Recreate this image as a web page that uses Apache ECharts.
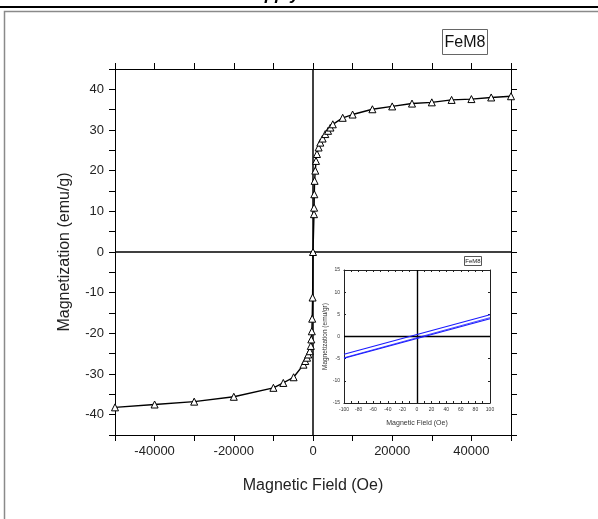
<!DOCTYPE html>
<html><head><meta charset="utf-8">
<script src="https://cdn.jsdelivr.net/npm/echarts@6/dist/echarts.min.js"></script>
<style>html,body{margin:0;padding:0;background:#fff}#c{width:598px;height:519px}</style>
</head><body><div id="c"></div>
<script>
// Main M-H curve (field in Oe, magnetization in emu/g)
const fieldOe = [-50000,-40000,-30000,-20000,-10000,-7500,-4900,-2400,-1950,-1500,-1200,-800,-550,-430,-300,-200,-100,0,250,280,330,400,580,760,1000,1420,1850,2430,3100,3800,4400,5000,7500,10000,15000,20000,25000,30000,35000,40000,45000,50000];
const magnetization = [-38.2,-37.5,-36.8,-35.6,-33.4,-32.2,-30.8,-27.7,-26.8,-26.0,-25.2,-24.4,-23.1,-21.5,-19.5,-16.4,-11.2,0,9.3,10.9,14.2,17.5,20.0,22.4,24.1,25.7,26.9,27.9,29.0,29.8,30.6,31.4,33.0,33.8,35.1,35.8,36.5,36.8,37.4,37.6,38.0,38.3];
// Inset low-field loop
const insetField = [-100, 100];
const insetUpper = [-4.0, 4.9];
const insetLower = [-4.9, 4.0];
const insetLower2 = [-4.8, 4.25];
// Labels
const mainTitle = 'FeM8';
const xName = 'Magnetic Field (Oe)';
const yName = 'Magnetization (emu/g)';
const insetXName = 'Magnetic Field (Oe)';
const insetYName = 'Magnetization (emu/gr)';

const zip = (a, b) => a.map((v, i) => [v, b[i]]);
const font = 'Liberation Sans';
const chart = echarts.init(document.getElementById('c'), null, {renderer: 'canvas'});

function mainX(pos, labels) {
  return {
    type: 'value', gridIndex: 0, position: pos, min: -50000, max: 50000, interval: 10000,
    axisLine: {show: true, onZero: false, lineStyle: {color: '#000', width: 1}},
    axisTick: {show: true, inside: false, length: 6, lineStyle: {color: '#000', width: 1}},
    axisLabel: {show: labels, margin: 10, fontFamily: font, fontSize: 13, color: '#222',
      formatter: v => (v % 20000 === 0 ? String(v) : '')},
    splitLine: {show: false},
    name: labels ? xName : '', nameLocation: 'middle', nameGap: 43,
    nameTextStyle: {fontFamily: font, fontSize: 16, color: '#222'}
  };
}
function mainY(pos, labels) {
  return {
    type: 'value', gridIndex: 0, position: pos, min: -45, max: 45, interval: 5,
    axisLine: {show: true, onZero: false, lineStyle: {color: '#000', width: 1}},
    axisTick: {show: true, inside: false, length: 6, lineStyle: {color: '#000', width: 1}},
    axisLabel: {show: labels, margin: 11, fontFamily: font, fontSize: 13, color: '#222',
      formatter: v => (v % 10 === 0 ? String(v) : '')},
    splitLine: {show: false},
    name: labels ? yName : '', nameLocation: 'middle', nameGap: 42,
    nameTextStyle: {fontFamily: font, fontSize: 16, color: '#222'}
  };
}
function insetX(pos, labels) {
  return {
    type: 'value', gridIndex: 1, position: pos, min: -100, max: 100, interval: 10,
    axisLine: {show: true, onZero: false, lineStyle: {color: '#222', width: 1}},
    axisTick: {show: true, inside: true, length: 2, lineStyle: {color: '#222', width: 1}},
    axisLabel: {show: labels, margin: 4, fontFamily: font, fontSize: 5, color: '#333',
      formatter: v => (v % 20 === 0 ? String(v) : '')},
    splitLine: {show: false},
    name: labels ? insetXName : '', nameLocation: 'middle', nameGap: 17,
    nameTextStyle: {fontFamily: font, fontSize: 7, color: '#333'}
  };
}
function insetY(pos, labels) {
  return {
    type: 'value', gridIndex: 1, position: pos, min: -15, max: 15, interval: 5,
    axisLine: {show: true, onZero: false, lineStyle: {color: '#222', width: 1}},
    axisTick: {show: true, inside: true, length: 2, lineStyle: {color: '#222', width: 1}},
    axisLabel: {show: labels, margin: 4, fontFamily: font, fontSize: 5, color: '#333'},
    splitLine: {show: false},
    name: labels ? insetYName : '', nameLocation: 'middle', nameGap: 14,
    nameTextStyle: {fontFamily: font, fontSize: 6.5, color: '#333'}
  };
}

const option = {
  animation: false,
  backgroundColor: '#fff',
  grid: [
    {left: 115, top: 69, width: 396, height: 366, containLabel: false},
    {left: 344, top: 270, width: 146, height: 133, containLabel: false}
  ],
  xAxis: [mainX('bottom', true), mainX('top', false), insetX('bottom', true), insetX('top', false)],
  yAxis: [mainY('left', true), mainY('right', false), insetY('left', true), insetY('right', false)],
  series: [
    {
      type: 'line', xAxisIndex: 0, yAxisIndex: 0, data: zip(fieldOe, magnetization),
      symbol: 'triangle', symbolSize: 7, showAllSymbol: true,
      itemStyle: {color: '#fff', borderColor: '#000', borderWidth: 1},
      lineStyle: {color: '#000', width: 1.4}, z: 5,
      markLine: {silent: true, symbol: 'none', label: {show: false}, animation: false,
        lineStyle: {color: '#000', width: 1.5, type: 'solid'},
        data: [{xAxis: 0}, {yAxis: 0}]}
    },
    {
      type: 'line', xAxisIndex: 2, yAxisIndex: 2, data: zip(insetField, insetUpper),
      symbol: 'none', lineStyle: {color: '#1a1aff', width: 1.2}, z: 5,
      markLine: {silent: true, symbol: 'none', label: {show: false}, animation: false,
        lineStyle: {color: '#000', width: 1.4, type: 'solid'},
        data: [{xAxis: 0}, {yAxis: 0}]}
    },
    {
      type: 'line', xAxisIndex: 2, yAxisIndex: 2, data: zip(insetField, insetLower),
      symbol: 'none', lineStyle: {color: '#1a1aff', width: 1.2}, z: 5
    },
    {
      type: 'line', xAxisIndex: 2, yAxisIndex: 2, data: zip(insetField, insetLower2),
      symbol: 'none', lineStyle: {color: '#1a1aff', width: 0.8}, z: 5
    }
  ],
  graphic: [
    {type: 'line', shape: {x1: 0, y1: 7, x2: 598, y2: 7}, style: {stroke: '#000', lineWidth: 2}},
    {type: 'rect', shape: {x: 4.5, y: 11.5, width: 620, height: 540}, style: {fill: null, stroke: '#8a8a8a', lineWidth: 1.5}},
    {type: 'text', x: 243, y: -13, style: {text: 'Supply', font: 'italic bold 17px "Liberation Sans"', fill: '#000'}},
    {type: 'rect', shape: {x: 442.5, y: 29.5, width: 45, height: 25}, style: {fill: '#fff', stroke: '#666', lineWidth: 1}},
    {type: 'text', x: 465, y: 42.5, style: {text: mainTitle, font: '16px "Liberation Sans"', fill: '#111', align: 'center', verticalAlign: 'middle'}},
    {type: 'rect', shape: {x: 464.5, y: 256.5, width: 17, height: 9}, style: {fill: '#fff', stroke: '#555', lineWidth: 1}, z: 10},
    {type: 'text', x: 473, y: 261, style: {text: mainTitle, font: '6px "Liberation Sans"', fill: '#222', align: 'center', verticalAlign: 'middle'}, z: 11}
  ]
};
chart.setOption(option);
</script>
</body></html>
